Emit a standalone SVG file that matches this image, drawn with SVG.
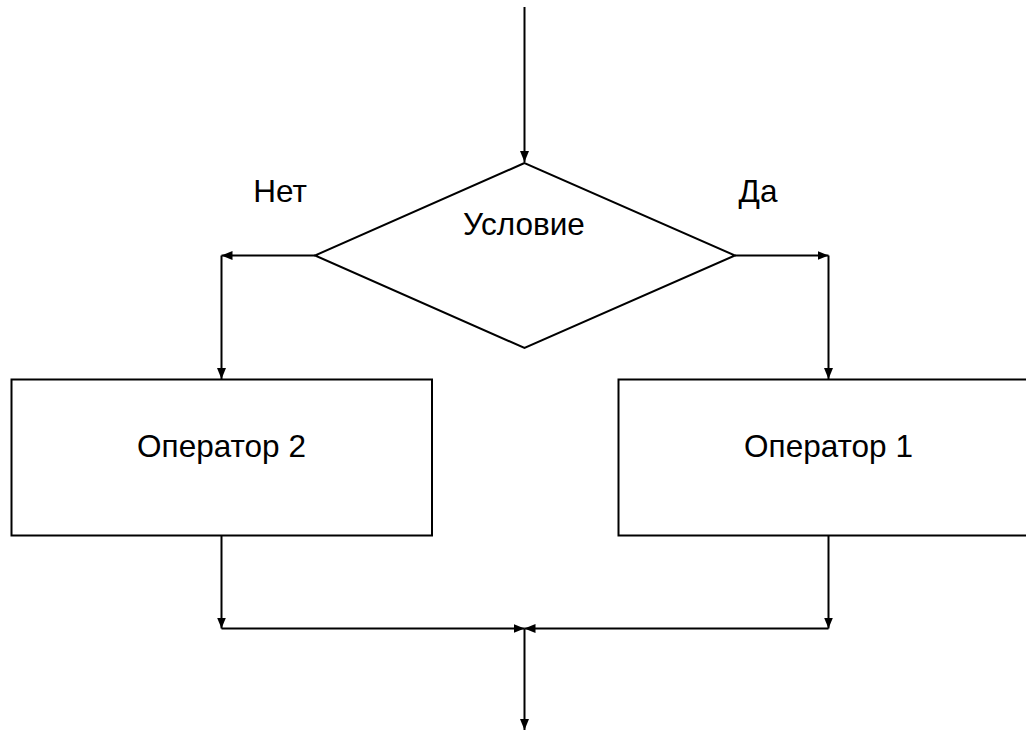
<svg xmlns="http://www.w3.org/2000/svg" width="1026" height="731" viewBox="0 0 1026 731">
  <style>
    .shape { fill: #ffffff; stroke: #000000; stroke-width: 2; }
    .wire { fill: none; stroke: #000000; stroke-width: 2; }
    .label { font-family: "Liberation Sans", Arial, sans-serif; font-size: 31.5px; fill: #000000; text-anchor: middle; }
  </style>
  <defs>
    <marker id="arrow" viewBox="0 0 11 9" refX="11" refY="4.5" markerWidth="11" markerHeight="9" markerUnits="userSpaceOnUse" orient="auto">
      <path d="M0,0 L11,4.5 L0,9 Z" fill="#000000"/>
    </marker>
  </defs>
  <rect width="1026" height="731" fill="#ffffff"/>

  <g id="connectors">
    <line class="wire" x1="524.5" y1="7" x2="524.5" y2="162" marker-end="url(#arrow)"/>
    <polyline class="wire" points="315,255.5 221.5,255.5" marker-end="url(#arrow)"/>
    <polyline class="wire" points="221.5,255.5 221.5,379" marker-end="url(#arrow)"/>
    <polyline class="wire" points="735,255.5 828.5,255.5" marker-end="url(#arrow)"/>
    <polyline class="wire" points="828.5,255.5 828.5,379" marker-end="url(#arrow)"/>
    <line class="wire" x1="221.5" y1="535" x2="221.5" y2="628.5" marker-end="url(#arrow)"/>
    <line class="wire" x1="221.5" y1="628.5" x2="524.5" y2="628.5" marker-end="url(#arrow)"/>
    <line class="wire" x1="828.5" y1="535" x2="828.5" y2="628.5" marker-end="url(#arrow)"/>
    <line class="wire" x1="828.5" y1="628.5" x2="524.5" y2="628.5" marker-end="url(#arrow)"/>
    <line class="wire" x1="524.5" y1="628.5" x2="524.5" y2="730" marker-end="url(#arrow)"/>
  </g>

  <g id="condition">
    <polygon class="shape" points="524.5,163 315,255.5 524.5,348 735,255.5"/>
    <text class="label" x="524" y="235">Условие</text>
  </g>

  <g id="label-no">
    <text class="label" x="280" y="202">Нет</text>
  </g>

  <g id="label-yes">
    <text class="label" x="758" y="202">Да</text>
  </g>

  <g id="operator2">
    <rect class="shape" x="11.5" y="379.5" width="420.5" height="156"/>
    <text class="label" x="221.5" y="457">Оператор 2</text>
  </g>

  <g id="operator1">
    <rect class="shape" x="618.5" y="379.5" width="420.5" height="156"/>
    <text class="label" x="828.5" y="457">Оператор 1</text>
  </g>
</svg>
